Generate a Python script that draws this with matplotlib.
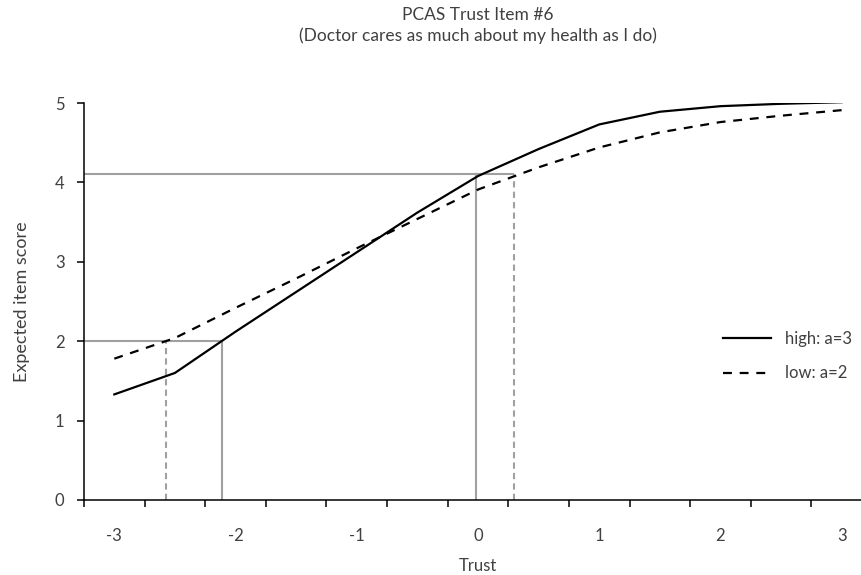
import matplotlib
matplotlib.use("Agg")
import matplotlib.pyplot as plt
from matplotlib.ticker import FixedLocator, NullFormatter

plt.rcParams["font.family"] = ["Lato", "DejaVu Sans"]

# trust levels (category axis, every half unit)
trust = [-3, -2.5, -2, -1.5, -1, -0.5, 0, 0.5, 1, 1.5, 2, 2.5, 3]
high = [1.33, 1.60, 2.12, 2.62, 3.12, 3.62, 4.08, 4.42, 4.73, 4.89, 4.96, 4.99, 5.01]
low = [1.78, 2.04, 2.42, 2.79, 3.17, 3.54, 3.91, 4.19, 4.44, 4.63, 4.76, 4.84, 4.91]

# reference lines: trust needed to reach a given expected score
ref_scores = [2.0, 4.1]
high_cross = [-2.11, -0.02]
low_cross = [-2.57, 0.30]

x_labels = ["-3", "-2", "-1", "0", "1", "2", "3"]
y_labels = ["0", "1", "2", "3", "4", "5"]

TXT = "#404040"
GREY = "#a0a0a0"

fig = plt.figure(figsize=(8.62, 5.75), dpi=100)
ax = fig.add_axes([84 / 862, 75 / 575, 788 / 862, 397 / 575])

xmin, xmax = -3.25, 3.25
for s, xh, xl in zip(ref_scores, high_cross, low_cross):
    ax.plot([xmin, max(xh, xl)], [s, s], color=GREY, lw=1.5, solid_capstyle="butt", zorder=1)
    ax.plot([xh, xh], [0, s], color=GREY, lw=1.5, zorder=1)
    ax.plot([xl, xl], [0, s], color=GREY, lw=1.5, dashes=(3, 2), zorder=1)

ax.plot(trust, high, color="black", lw=1.6, label="high: a=3", zorder=3)
ax.plot(trust, low, color="black", lw=1.6, dashes=(4, 3.5), label="low: a=2", zorder=3)

ax.set_xlim(xmin, xmax)
ax.set_ylim(0, 5)

ax.xaxis.set_major_locator(FixedLocator([-3, -2, -1, 0, 1, 2, 3]))
ax.set_xticklabels(x_labels)
ax.xaxis.set_minor_locator(FixedLocator([xmin + 0.5 * k for k in range(13)]))
ax.xaxis.set_minor_formatter(NullFormatter())
ax.tick_params(axis="x", which="major", length=0, pad=20, labelsize=12, labelcolor=TXT)
ax.tick_params(axis="x", which="minor", length=5, width=1.1, direction="out", color="black")

ax.set_yticks(range(6))
ax.set_yticklabels(y_labels)
ax.tick_params(axis="y", length=5, width=1.1, direction="out", pad=9, labelsize=12, labelcolor=TXT)

for side in ["top", "right"]:
    ax.spines[side].set_visible(False)
for side in ["left", "bottom"]:
    ax.spines[side].set_linewidth(1.1)
    ax.spines[side].set_color("black")

ax.set_xlabel("Trust", fontsize=12, color=TXT, labelpad=10)
ax.set_ylabel("Expected item score", fontsize=13, color=TXT, labelpad=18)
ax.set_title("PCAS Trust Item #6\n(Doctor cares as much about my health as I do)",
             fontsize=12.5, color=TXT, pad=45, linespacing=1.3)

ax.legend(loc="upper left", bbox_to_anchor=(723 / 862, 1 - 331 / 575),
          bbox_transform=fig.transFigure, frameon=False, fontsize=12,
          handlelength=2.9, handletextpad=0.8, labelspacing=1.1,
          borderpad=0, borderaxespad=0, labelcolor=TXT)

fig.savefig("out.png", dpi=100)
